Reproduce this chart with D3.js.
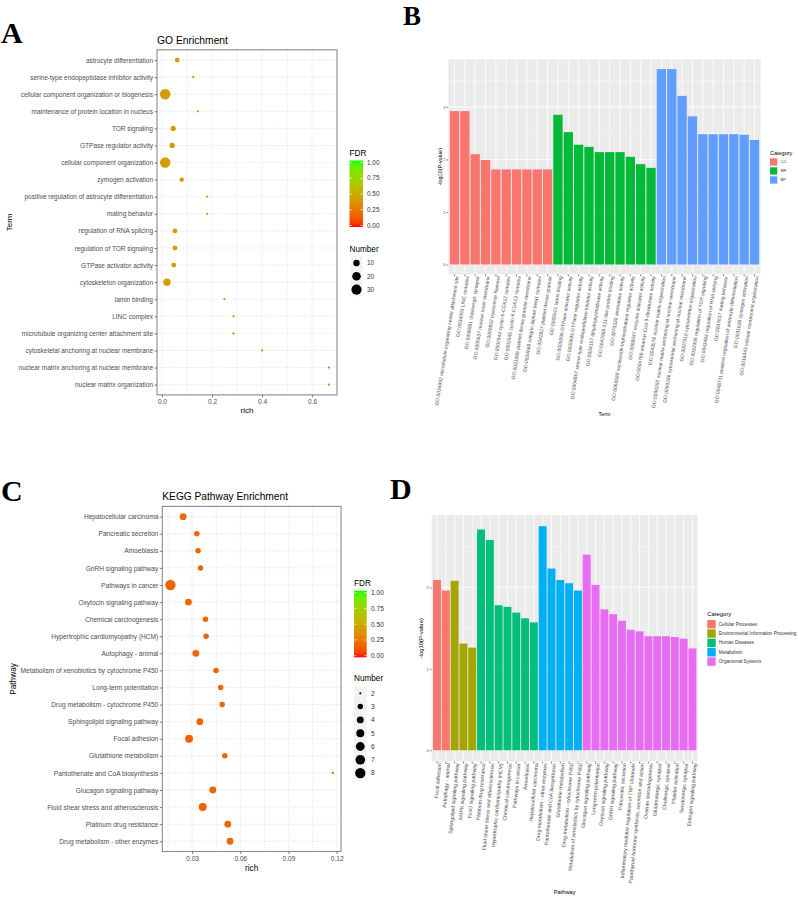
<!DOCTYPE html>
<html>
<head>
<meta charset="utf-8">
<script src="https://cdn.jsdelivr.net/npm/d3@7"></script>
<style>
body { margin: 0; background: #fff; }
svg text { font-family: "Liberation Sans", Arial, sans-serif; }
.tag { font-family: "Liberation Serif", "Times New Roman", serif; font-weight: bold; }
</style>
</head>
<body>
<svg id="fig" width="798" height="897"></svg>
<script>
// ---------------- data: panel A (GO dot plot) ----------------
const goTerms = ["astrocyte differentiation", "serine-type endopeptidase inhibitor activity",
  "cellular component organization or biogenesis", "maintenance of protein location in nucleus",
  "TOR signaling", "GTPase regulator activity", "cellular component organization", "zymogen activation",
  "positive regulation of astrocyte differentiation", "mating behavior", "regulation of RNA splicing",
  "regulation of TOR signaling", "GTPase activator activity", "cytoskeleton organization", "lamin binding",
  "LINC complex", "microtubule organizing center attachment site", "cytoskeletal anchoring at nuclear membrane",
  "nuclear matrix anchoring at nuclear membrane", "nuclear matrix organization"];
const goRich = [0.061, 0.125, 0.013, 0.144, 0.045, 0.041, 0.013, 0.079, 0.181, 0.181,
  0.052, 0.052, 0.047, 0.020, 0.250, 0.286, 0.286, 0.400, 0.667, 0.667];
const goNumber = [5, 2, 33, 2, 6, 6, 32, 4, 2, 2, 5, 5, 5, 14, 2, 2, 2, 2, 2, 2];
const goFDR = [0.42, 0.38, 0.43, 0.38, 0.42, 0.41, 0.42, 0.40, 0.36, 0.36,
  0.40, 0.40, 0.40, 0.41, 0.33, 0.31, 0.31, 0.29, 0.25, 0.25];
const goRichTicks = [0, 0.2, 0.4, 0.6];
const goSizeBreaks = [10, 20, 30];

// ---------------- data: panel B (GO bars) ----------------
const bTerms = ["GO:0034992 microtubule organizing center attachment site", "GO:0034993 LINC complex",
  "GO:0098981 cholinergic synapse", "GO:0005637 nuclear inner membrane", "GO:0000802 transverse filament",
  "GO:0002944 cyclin K-CDK12 complex", "GO:0002945 cyclin K-CDK13 complex",
  "GO:0031088 platelet dense granule membrane", "GO:0034668 integrin alpha4-beta1 complex",
  "GO:0042827 platelet dense granule",
  "GO:0005521 lamin binding", "GO:0005096 GTPase activator activity", "GO:0030695 GTPase regulator activity",
  "GO:0004867 serine-type endopeptidase inhibitor activity", "GO:0004157 dihydropyrimidinase activity",
  "GO:0042988 X11-like protein binding", "GO:0070330 aromatase activity",
  "GO:0060589 nucleoside-triphosphatase regulator activity", "GO:0008047 enzyme activator activity",
  "GO:0004768 stearoyl-CoA 9-desaturase activity",
  "GO:0043578 nuclear matrix organization", "GO:0090292 nuclear matrix anchoring at nuclear membrane",
  "GO:0090286 cytoskeletal anchoring at nuclear membrane", "GO:0007010 cytoskeleton organization",
  "GO:0032006 regulation of TOR signaling", "GO:0043484 regulation of RNA splicing",
  "GO:0007617 mating behavior", "GO:0048711 positive regulation of astrocyte differentiation",
  "GO:0031638 zymogen activation", "GO:0016043 cellular component organization"];
const bValues = [2.92, 2.92, 2.10, 1.99, 1.81, 1.81, 1.81, 1.81, 1.81, 1.81,
  2.85, 2.52, 2.28, 2.24, 2.14, 2.14, 2.14, 2.05, 1.91, 1.84,
  3.72, 3.72, 3.21, 2.82, 2.48, 2.48, 2.48, 2.48, 2.47, 2.37];
const bCategory = ["CC", "CC", "CC", "CC", "CC", "CC", "CC", "CC", "CC", "CC",
  "MF", "MF", "MF", "MF", "MF", "MF", "MF", "MF", "MF", "MF",
  "BP", "BP", "BP", "BP", "BP", "BP", "BP", "BP", "BP", "BP"];
const bCats = ["CC", "MF", "BP"];
const bTicks = [0, 1, 2, 3];

// ---------------- data: panel C (KEGG dot plot) ----------------
const keggPathways = ["Hepatocellular carcinoma", "Pancreatic secretion", "Amoebiasis", "GnRH signaling pathway",
  "Pathways in cancer", "Oxytocin signaling pathway", "Chemical carcinogenesis",
  "Hypertrophic cardiomyopathy (HCM)", "Autophagy - animal", "Metabolism of xenobiotics by cytochrome P450",
  "Long-term potentiation", "Drug metabolism - cytochrome P450", "Sphingolipid signaling pathway",
  "Focal adhesion", "Glutathione metabolism", "Pantothenate and CoA biosynthesis", "Glucagon signaling pathway",
  "Fluid shear stress and atherosclerosis", "Platinum drug resistance", "Drug metabolism - other enzymes"];
const keggRich = [0.0244, 0.0329, 0.0337, 0.0352, 0.0165, 0.0277, 0.0383, 0.0387, 0.0323, 0.0449,
  0.0478, 0.0487, 0.0348, 0.0281, 0.0503, 0.1176, 0.0429, 0.0366, 0.0522, 0.0536];
const keggNumber = [4, 3, 3, 3, 8, 4, 3, 3, 4, 3, 3, 3, 4, 5, 3, 2, 4, 5, 4, 4];
const keggFDR = [0.18, 0.18, 0.18, 0.18, 0.17, 0.18, 0.18, 0.18, 0.18, 0.18,
  0.18, 0.18, 0.18, 0.17, 0.18, 0.18, 0.18, 0.17, 0.18, 0.18];
const keggRichTicks = [0.03, 0.06, 0.09, 0.12];
const keggSizeBreaks = [2, 3, 4, 5, 6, 7, 8];

// ---------------- data: panel D (KEGG bars) ----------------
const dPathways = ["Focal adhesion", "Autophagy - animal", "Sphingolipid signaling pathway",
  "AMPK signaling pathway", "FoxO signaling pathway", "Platinum drug resistance",
  "Fluid shear stress and atherosclerosis", "Hypertrophic cardiomyopathy (HCM)", "Chemical carcinogenesis",
  "Pathways in cancer", "Amoebiasis", "Hepatocellular carcinoma", "Drug metabolism - other enzymes",
  "Pantothenate and CoA biosynthesis", "Glutathione metabolism", "Drug metabolism - cytochrome P450",
  "Metabolism of xenobiotics by cytochrome P450", "Glucagon signaling pathway", "Long-term potentiation",
  "Oxytocin signaling pathway", "GnRH signaling pathway", "Pancreatic secretion",
  "Inflammatory mediator regulation of TRP channels", "Parathyroid hormone synthesis, secretion and action",
  "Ovarian steroidogenesis", "Glutamatergic synapse", "Cholinergic synapse", "Platelet activation",
  "Serotonergic synapse", "Estrogen signaling pathway"];
const dValues = [2.09, 1.96, 2.08, 1.31, 1.26, 2.71, 2.58, 1.78, 1.76, 1.69, 1.62, 1.57,
  2.75, 2.23, 2.09, 2.05, 1.96, 2.40, 2.03, 1.73, 1.67, 1.59, 1.48, 1.46, 1.40, 1.40, 1.40, 1.39, 1.37, 1.25];
const dCategory = ["Cellular Processes", "Cellular Processes",
  "Environmental Information Processing", "Environmental Information Processing", "Environmental Information Processing",
  "Human Diseases", "Human Diseases", "Human Diseases", "Human Diseases", "Human Diseases", "Human Diseases", "Human Diseases",
  "Metabolism", "Metabolism", "Metabolism", "Metabolism", "Metabolism",
  "Organismal Systems", "Organismal Systems", "Organismal Systems", "Organismal Systems", "Organismal Systems",
  "Organismal Systems", "Organismal Systems", "Organismal Systems", "Organismal Systems", "Organismal Systems",
  "Organismal Systems", "Organismal Systems", "Organismal Systems"];
const dCats = ["Cellular Processes", "Environmental Information Processing", "Human Diseases", "Metabolism", "Organismal Systems"];
const dTicks = [0, 1, 2];

const fdrBreaks = [0, 0.25, 0.5, 0.75, 1];

//=================================================================
const svg = d3.select('#fig');

// FDR colour: red -> green, interpolated in Lab like ggplot
const fdrColor = d3.scaleLinear().domain([0, 1]).range(['#ff0000', '#00ff00']).interpolate(d3.interpolateLab);

const grad = svg.append('defs').append('linearGradient')
  .attr('id', 'fdrGrad').attr('x1', 0).attr('x2', 0).attr('y1', 1).attr('y2', 0);
grad.selectAll('stop').data(d3.range(0, 1.0001, 0.05)).join('stop')
  .attr('offset', d => d).attr('stop-color', d => fdrColor(d));

function expand(ext, f) {
  const d = (ext[1] - ext[0]) * f;
  return [ext[0] - d, ext[1] + d];
}

function tag(txt, x, y, size) {
  svg.append('text').attr('class', 'tag').attr('x', x).attr('y', y)
    .attr('font-size', size).text(txt);
}

function styleAxis(ax, fs) {
  ax.select('.domain').remove();
  ax.attr('font-size', fs);
  ax.selectAll('line').attr('stroke', '#333').attr('stroke-width', 0.6);
  ax.selectAll('text').attr('fill', '#4d4d4d');
}

// bubble plot (panels A and C)
function dotPlot(o) {
  const g = svg.append('g');
  const rows = o.terms.map((t, i) => ({ term: t, rich: o.rich[i], n: o.number[i], fdr: o.fdr[i] }));

  const x = d3.scaleLinear().domain(expand(d3.extent(o.rich), 0.05)).range([o.left, o.right]);
  const y = d3.scalePoint().domain(o.terms).range([o.top, o.bottom]).padding(0.6);

  // area-style size scale (ggplot scale_size, range 1..6)
  const nExt = d3.extent(o.number);
  const sz = d3.scaleLinear().domain([0, 1]).range([1, 6]);
  const radius = v => o.ptPx / 2 * (2.845 * sz(Math.sqrt((v - nExt[0]) / (nExt[1] - nExt[0]))) + 0.945);

  g.append('rect').attr('x', o.left).attr('y', o.top)
    .attr('width', o.right - o.left).attr('height', o.bottom - o.top).attr('fill', '#fff');

  const step = o.xTicks[1] - o.xTicks[0];
  const gridX = d3.range(o.xTicks[0] - step, o.xTicks[o.xTicks.length - 1] + step, step / 2)
    .filter(v => x(v) > o.left && x(v) < o.right);

  const grid = g.append('g').attr('stroke', '#d2d2d2').attr('stroke-width', 0.7).attr('stroke-dasharray', '1,1.6');
  grid.selectAll('line.gx').data(gridX).join('line').attr('class', 'gx')
    .attr('x1', d => x(d)).attr('x2', d => x(d)).attr('y1', o.top).attr('y2', o.bottom);
  grid.selectAll('line.gy').data(o.terms).join('line').attr('class', 'gy')
    .attr('x1', o.left).attr('x2', o.right).attr('y1', d => y(d)).attr('y2', d => y(d));

  g.selectAll('circle.pt').data(rows).join('circle').attr('class', 'pt')
    .attr('cx', d => x(d.rich)).attr('cy', d => y(d.term))
    .attr('r', d => radius(d.n)).attr('fill', d => fdrColor(d.fdr));

  g.append('rect').attr('x', o.left).attr('y', o.top)
    .attr('width', o.right - o.left).attr('height', o.bottom - o.top)
    .attr('fill', 'none').attr('stroke', '#8a8a8a').attr('stroke-width', 1.1);

  const ya = g.append('g').attr('transform', `translate(${o.left},0)`)
    .call(d3.axisLeft(y).tickSize(2.5).tickPadding(1.5));
  styleAxis(ya, o.fs);

  const xa = g.append('g').attr('transform', `translate(0,${o.bottom})`)
    .call(d3.axisBottom(x).tickValues(o.xTicks).tickFormat(d3.format(o.fmt)).tickSize(2.5).tickPadding(2));
  styleAxis(xa, o.fs);

  g.append('text').attr('x', o.left).attr('y', o.titleY).attr('font-size', o.titleFs).text(o.title);
  g.append('text').attr('x', (o.left + o.right) / 2).attr('y', o.xTitleY)
    .attr('text-anchor', 'middle').attr('font-size', o.axisFs).text('rich');
  g.append('text').attr('transform', `translate(${o.yTitleX},${(o.top + o.bottom) / 2}) rotate(-90)`)
    .attr('text-anchor', 'middle').attr('font-size', o.axisFs).text(o.yTitle);

  // FDR colour bar
  const L = o.legend;
  g.append('text').attr('x', L.x).attr('y', L.fdrTitleY).attr('font-size', L.titleFs).text('FDR');
  g.append('rect').attr('x', L.x).attr('y', L.barTop).attr('width', L.barW)
    .attr('height', L.barBottom - L.barTop).attr('fill', 'url(#fdrGrad)');
  const ly = d3.scaleLinear().domain([0, 1]).range([L.lab0, L.lab1]);
  g.selectAll('line.cbt').data(fdrBreaks).join('line').attr('class', 'cbt')
    .attr('x1', L.x).attr('x2', L.x + L.barW / 5).attr('y1', d => ly(d)).attr('y2', d => ly(d))
    .attr('stroke', '#fff').attr('stroke-width', 0.6);
  g.selectAll('line.cbt2').data(fdrBreaks).join('line').attr('class', 'cbt2')
    .attr('x1', L.x + L.barW * 0.8).attr('x2', L.x + L.barW).attr('y1', d => ly(d)).attr('y2', d => ly(d))
    .attr('stroke', '#fff').attr('stroke-width', 0.6);
  g.selectAll('text.cbl').data(fdrBreaks).join('text').attr('class', 'cbl')
    .attr('x', L.labX).attr('y', d => ly(d)).attr('dy', '0.35em')
    .attr('font-size', L.labFs).attr('fill', '#333').text(d => d3.format('.2f')(d));

  // Number legend
  g.append('text').attr('x', L.x).attr('y', L.numTitleY).attr('font-size', L.titleFs).text('Number');
  const keys = g.selectAll('g.key').data(o.sizeBreaks).join('g').attr('class', 'key')
    .attr('transform', (d, i) => `translate(${L.keyX},${L.key0 + i * L.keyStep})`);
  keys.append('rect').attr('x', -L.keyW / 2).attr('y', -L.keyStep / 2)
    .attr('width', L.keyW).attr('height', L.keyStep).attr('fill', '#f2f2f2');
  keys.append('circle').attr('r', d => radius(d)).attr('fill', '#000');
  keys.append('text').attr('x', L.labX - L.keyX).attr('dy', '0.35em')
    .attr('font-size', L.labFs).attr('fill', '#333').text(d => d);
}

// bar chart (panels B and D)
function barChart(o) {
  const g = svg.append('g');
  const bars = o.terms.map((t, i) => ({ term: t, value: o.values[i], cat: o.category[i] }));

  const x = d3.scaleBand().domain(o.terms).range([o.left, o.right]).paddingInner(0.1).paddingOuter(0.15);
  const ymax = d3.max(o.values);
  const y = d3.scaleLinear().domain([-0.05 * ymax, 1.05 * ymax]).range([o.bottom, o.top]);
  const color = d3.scaleOrdinal().domain(o.cats).range(o.colors);

  g.append('rect').attr('x', o.left).attr('y', o.top)
    .attr('width', o.right - o.left).attr('height', o.bottom - o.top).attr('fill', '#ebebeb');

  const minor = d3.range(0.5, y.domain()[1], 1);
  g.selectAll('line.mn').data(minor).join('line').attr('class', 'mn')
    .attr('x1', o.left).attr('x2', o.right).attr('y1', d => y(d)).attr('y2', d => y(d))
    .attr('stroke', '#fff').attr('stroke-width', 0.4);
  g.selectAll('line.mj').data(o.yTicks).join('line').attr('class', 'mj')
    .attr('x1', o.left).attr('x2', o.right).attr('y1', d => y(d)).attr('y2', d => y(d))
    .attr('stroke', '#fff').attr('stroke-width', 0.8);
  g.selectAll('line.vx').data(o.terms).join('line').attr('class', 'vx')
    .attr('x1', d => x(d) + x.bandwidth() / 2).attr('x2', d => x(d) + x.bandwidth() / 2)
    .attr('y1', o.top).attr('y2', o.bottom).attr('stroke', '#fff').attr('stroke-width', 0.8);

  g.selectAll('rect.bar').data(bars).join('rect').attr('class', 'bar')
    .attr('x', d => x(d.term)).attr('width', x.bandwidth())
    .attr('y', d => y(d.value)).attr('height', d => y(0) - y(d.value))
    .attr('fill', d => color(d.cat));

  const ya = g.append('g').attr('transform', `translate(${o.left},0)`)
    .call(d3.axisLeft(y).tickValues(o.yTicks).tickFormat(d3.format('d')).tickSize(2).tickPadding(1));
  styleAxis(ya, o.tickFs);

  const xa = g.append('g').attr('transform', `translate(0,${o.bottom})`)
    .call(d3.axisBottom(x).tickSize(2).tickPadding(1));
  styleAxis(xa, o.labFs);
  xa.selectAll('text')
    .attr('transform', `translate(0,1.5) rotate(${o.angle})`)
    .attr('text-anchor', 'end').attr('y', 2.5).attr('x', 0).attr('dy', '0.35em');

  g.append('text').attr('x', (o.left + o.right) / 2).attr('y', o.xTitleY)
    .attr('text-anchor', 'middle').attr('font-size', o.axisFs).text(o.xTitle);
  g.append('text').attr('transform', `translate(${o.yTitleX},${(o.top + o.bottom) / 2}) rotate(-90)`)
    .attr('text-anchor', 'middle').attr('font-size', o.yAxisFs).text('-log10(P-value)');

  const L = o.legend;
  g.append('text').attr('x', L.x).attr('y', L.titleY).attr('font-size', L.titleFs).text('Category');
  const keys = g.selectAll('g.ck').data(o.cats).join('g').attr('class', 'ck')
    .attr('transform', (d, i) => `translate(${L.x},${L.key0 + i * L.step})`);
  keys.append('rect').attr('width', L.size).attr('height', L.size).attr('fill', d => color(d));
  keys.append('text').attr('x', L.labDx).attr('y', L.size / 2).attr('dy', '0.35em')
    .attr('font-size', L.labFs).attr('fill', '#333').text(d => d);
}

//=================================================================
//                          Panels
//=================================================================
tag('A', 1, 43, 30);
tag('B', 403, 24.5, 27);
tag('C', 1, 501, 30);
tag('D', 390, 499, 30);

dotPlot({
  terms: goTerms, rich: goRich, number: goNumber, fdr: goFDR,
  xTicks: goRichTicks, fmt: '.1f', sizeBreaks: goSizeBreaks,
  left: 157, right: 337, top: 49.8, bottom: 394.9, ptPx: 0.585,
  fs: 6.5, titleFs: 10.3, axisFs: 8,
  title: 'GO Enrichment', titleY: 43.5, xTitleY: 413, yTitle: 'Term', yTitleX: 11.5,
  legend: {
    x: 349.5, fdrTitleY: 156, barTop: 160.5, barBottom: 227, barW: 13.5, lab0: 225.5, lab1: 162.5,
    labX: 367, labFs: 6.4, titleFs: 8.2,
    numTitleY: 251.5, keyX: 356.5, key0: 263, keyStep: 13.3, keyW: 11.6
  }
});

dotPlot({
  terms: keggPathways, rich: keggRich, number: keggNumber, fdr: keggFDR,
  xTicks: keggRichTicks, fmt: '.2f', sizeBreaks: keggSizeBreaks,
  left: 162.3, right: 341, top: 506.4, bottom: 851.5, ptPx: 0.572,
  fs: 6.6, titleFs: 10.2, axisFs: 8.3,
  title: 'KEGG Pathway Enrichment', titleY: 500, xTitleY: 871, yTitle: 'Pathway', yTitleX: 15.5,
  legend: {
    x: 354, fdrTitleY: 585.5, barTop: 590.7, barBottom: 657.3, barW: 12.7, lab0: 655.7, lab1: 592.7,
    labX: 371, labFs: 6.6, titleFs: 8.2,
    numTitleY: 680.5, keyX: 360.3, key0: 693.3, keyStep: 13.3, keyW: 12.7
  }
});

barChart({
  terms: bTerms, values: bValues, category: bCategory, cats: bCats,
  colors: ['#F8766D', '#00BA38', '#619CFF'], yTicks: bTicks,
  left: 448.3, right: 760.7, top: 59.3, bottom: 274.3, angle: -81,
  tickFs: 3.8, labFs: 5, axisFs: 5.3, yAxisFs: 5.5, xTitle: 'Term', xTitleY: 415.5, yTitleX: 441.5,
  legend: { x: 770, titleY: 155, titleFs: 5.5, key0: 158.3, step: 9, size: 7.3, labDx: 10.5, labFs: 4.2 }
});

barChart({
  terms: dPathways, values: dValues, category: dCategory, cats: dCats,
  colors: ['#F8766D', '#A3A500', '#00BF7D', '#00B0F6', '#E76BF3'], yTicks: dTicks,
  left: 431.7, right: 697.7, top: 515, bottom: 761.5, angle: -84.5,
  tickFs: 3.9, labFs: 5.2, axisFs: 5.7, yAxisFs: 5.9, xTitle: 'Pathway', xTitleY: 893.5, yTitleX: 423,
  legend: { x: 707.3, titleY: 615.5, titleFs: 5.9, key0: 620, step: 9.35, size: 8.4, labDx: 11.5, labFs: 4.6 }
});
</script>
</body>
</html>
